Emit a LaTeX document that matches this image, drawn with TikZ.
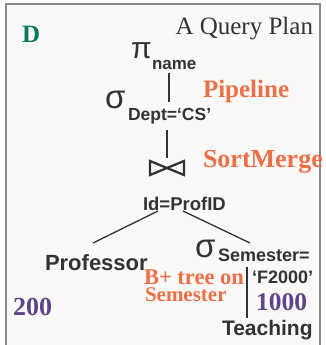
\documentclass[tikz,border=0pt]{standalone}
\usepackage{fontspec}
\setmainfont{Liberation Serif}
\newfontfamily\hsans{Liberation Sans}
\definecolor{ink}{HTML}{333333}
\definecolor{orng}{HTML}{EC7047}
\definecolor{purp}{HTML}{5E4589}
\definecolor{dgreen}{HTML}{0B7A5C}
\definecolor{paper}{HTML}{FAF9F7}
\definecolor{frame}{HTML}{8A8A8A}
\tikzset{
  lab/.style={inner sep=0pt, outer sep=0pt, text=ink, anchor=base west},
  sb/.style={lab, font=\hsans\bfseries\fontsize{#1}{#1}\selectfont},
  sr/.style={lab, font=\fontsize{#1}{#1}\selectfont},
  srb/.style={lab, font=\bfseries\fontsize{#1}{#1}\selectfont},
  greek/.style={lab, font=\hsans\fontsize{#1}{#1}\selectfont},
  edge/.style={draw=ink, line width=1.3pt},
}
\begin{document}
\begin{tikzpicture}[x=1pt,y=-1pt]
\useasboundingbox (0,0) rectangle (325,345);
\fill[white] (0,0) rectangle (325,345);
\filldraw[fill=paper, draw=frame, line width=1.2pt] (6,360) -- (6,4) -- (320,4) -- (320,360);

\node[srb=25, text=dgreen] (D) at (22,42) {D};
\node[sr=25, anchor=base east] (title) at (313,35) {A Query Plan};

\node[greek=30] (pi) at (131,59) {π};
\node[sb=17] (name) at (152,70) {name};

\node[greek=33] (sig1) at (105,108) {σ};
\node[sb=17.5] (dept) at (128,120) {Dept=‘CS’};
\node[srb=25, text=orng] (pipe) at (203,97) {Pipeline};

\coordinate (a1) at (169,73);
\coordinate (a2) at (169,102);
\draw[edge] (a1) -- (a2);

\coordinate (b1) at (167,130);
\coordinate (b2) at (167,158);
\draw[edge] (b1) -- (b2);

\coordinate (j1) at (150,161);
\coordinate (j2) at (150,175);
\coordinate (j3) at (184,161);
\coordinate (j4) at (184,175);
\draw[draw=ink, line width=2.3pt, line join=miter] (j1) -- (j2) -- (j3) -- (j4) -- cycle;
\node[srb=26, text=orng] (sm) at (203,167) {SortMerge};

\node[sb=18.5] (cond) at (143,210) {Id=ProfID};

\coordinate (l1) at (158,211);
\coordinate (l2) at (93,243);
\coordinate (r1) at (183,211);
\coordinate (r2) at (250,243);
\draw[edge] (l1) -- (l2);
\draw[edge] (r1) -- (r2);

\node[sb=22] (prof) at (45,270) {Professor};
\node[greek=33] (sig2) at (195,257) {σ};
\node[sb=18] (sem) at (218,261) {Semester=};
\node[sb=18] (f2000) at (252,283) {‘F2000’};

\node[srb=22.5, text=orng] (bt1) at (144,284.5) {B+ tree on};
\node[srb=21, text=orng] (bt2) at (145,301.5) {Semester};

\node[srb=26, text=purp] (n200) at (13,315) {200};
\node[srb=25.5, text=purp] (n1000) at (256,310) {1000};

\node[sb=21] (teach) at (222,335) {Teaching};
\coordinate (t1) at (247,267);
\coordinate (t2) at (247,318);
\draw[edge] (t1) -- (t2);
\end{tikzpicture}
\end{document}
